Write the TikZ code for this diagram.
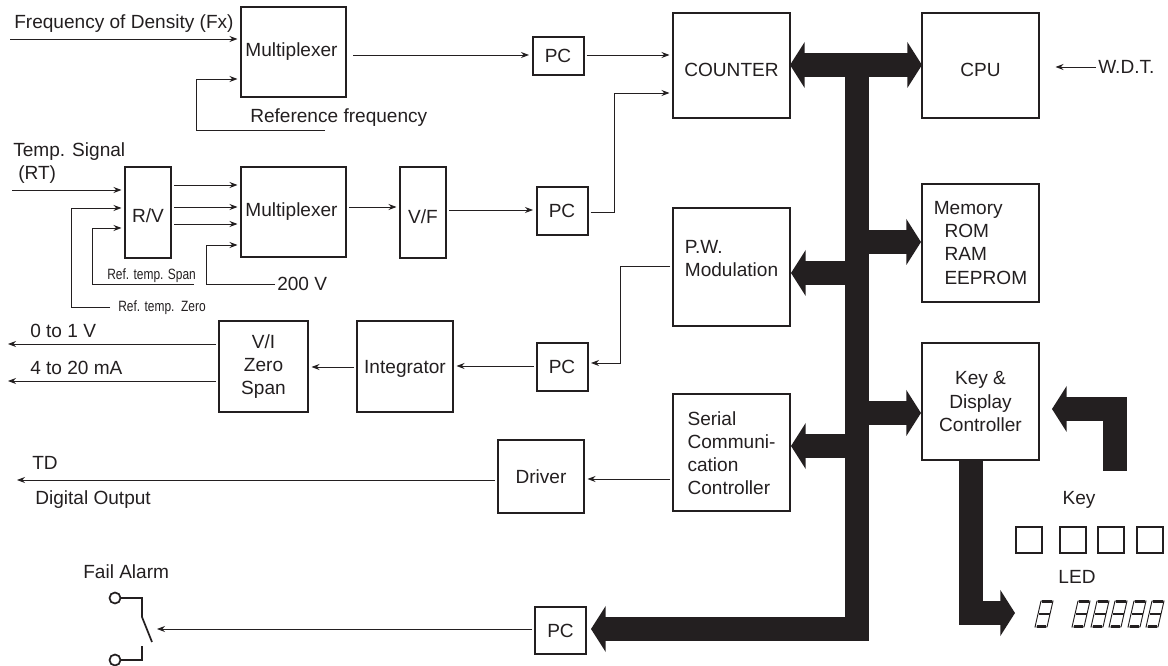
\documentclass[tikz,border=0pt]{standalone}
\usepackage{fontspec}
\usepackage{xcolor}
\setmainfont{Liberation Sans}
\usetikzlibrary{arrows.meta}
\definecolor{ink}{HTML}{231F20}
\def\u{0.75pt}

\tikzset{
    blk/.style 2 args={draw=ink, line width=1.5pt, minimum width=#1*\u, minimum height=#2*\u,
        inner sep=0pt, outer sep=0pt, align=center},
    lowered/.style={text height=#1},
    lbl/.style={inner sep=0pt, anchor=west, align=left},
    tiny lbl/.style={inner sep=0pt, anchor=west, font=\fontsize{11.2}{12}\selectfont},
    sig/.style={draw=ink, line width=0.7pt},
    fromblk/.style={shorten <=3*\u},
    toblk/.style={shorten >=3.5*\u},
    bus/.style={draw=ink, line width=18pt, line join=miter,
        >={Triangle[length=11pt,width=34pt]}},
}

% One slanted seven-segment digit, its lower left corner at x = #1
\newcommand{\segdigit}[1]{
    \draw[ink, line width=0.7pt] (#1,627) -- (#1+6,601) -- (#1+18,601) -- (#1+12,627) -- cycle;
    \draw[ink, line width=2.4pt] (#1+1.5,626.5) -- (#1+11,626.5);
    \draw[ink, line width=2.4pt] (#1+7,601.5) -- (#1+16.5,601.5);
    \draw[ink, line width=1.3pt] (#1+3.5,614) -- (#1+14.5,614);
}

\begin{document}
\begin{tikzpicture}[x=\u, y=-\u, >={Stealth[length=6pt,width=4.5pt]},
    every node/.style={text=ink, font=\fontsize{14.3}{17.3}\selectfont}]

    \useasboundingbox (0,0) rectangle (1168,666);

    % Blocks, first the signal chain on the left
    \node[blk={105}{90}] (muxA) at (293.5,52) {Multiplexer\hspace*{3pt}};
    \node[blk={51}{38}] (pcA) at (558,56) {PC};
    \node[blk={46}{91}, lowered=15pt] (rv) at (148,212.5) {R/V};
    \node[blk={105}{90}] (muxB) at (293.5,212) {Multiplexer\hspace*{3pt}};
    \node[blk={46}{91}, lowered=16pt] (vf) at (423,212.5) {V/F};
    \node[blk={51}{48}] (pcB) at (562,211) {PC};
    \node[blk={51}{48}] (pcC) at (562,367) {PC};
    \node[blk={96}{91}, lowered=14pt] (integ) at (405,366.5) {Integrator};
    \node[blk={89}{91}] (vi) at (263.5,366.5) {V/I\\Zero\\Span};
    \node[blk={86}{73}] (driver) at (541,476.5) {Driver};
    \node[blk={51}{47}] (pcD) at (560.5,630.5) {PC};

    % Blocks on the bus
    \node[blk={117}{105}, lowered=16pt] (counter) at (731.5,65.5) {COUNTER};
    \node[blk={117}{105}, lowered=16pt] (cpu) at (980.5,65.5) {CPU};
    \node[blk={117}{118}, align=left] (pwm) at (731.5,267) {P.W.\\Modulation\\[-4pt]\mbox{}};
    \node[blk={117}{118}, align=left] (memory) at (980.5,243) {Memory\\\hspace*{8pt}ROM\\\hspace*{8pt}RAM\\\hspace*{8pt}EEPROM};
    \node[blk={117}{117}] (keyctl) at (980.5,401.5) {Key \&\\Display\\Controller};
    \node[blk={117}{117}, align=left] (serial) at (731.5,453) {Serial\\Communi-\\cation\\Controller};

    % Free ends of the signals
    \coordinate (fxIn) at (10,39);
    \coordinate (refIn) at (325,130);
    \coordinate (rtIn) at (12,190);
    \coordinate (spanIn) at (194,284);
    \coordinate (zeroIn) at (110,307);
    \coordinate (hvIn) at (275,284);
    \coordinate (volt) at (8,344);
    \coordinate (amp) at (8,381);
    \coordinate (tdOut) at (17,480);
    \coordinate (wdtIn) at (1096,67);
    \coordinate (swTip) at (157,629);

    % Signals
    \draw[sig,->,toblk] (fxIn) -- (muxA.west |- fxIn);
    \draw[sig,->,toblk] (refIn) -- (196,130) -- (196,79) -- (muxA.west |- 0,79);
    \draw[sig,->,fromblk,toblk] (350,55) -- (pcA.west |- 0,55);
    \draw[sig,->,fromblk,toblk] (pcA.east |- 0,55) -- (counter.west |- 0,55);
    \draw[sig,->,toblk] (rtIn) -- (rv.west |- rtIn);
    \draw[sig,->,toblk] (zeroIn) -- (71,307) -- (71,208) -- (rv.west |- 0,208);
    \draw[sig,->,toblk] (spanIn) -- (92,284) -- (92,228) -- (rv.west |- 0,228);
    \foreach \y in {185,207,224}
        \draw[sig,->,fromblk,toblk] (rv.east |- 0,\y) -- (muxB.west |- 0,\y);
    \draw[sig,->,toblk] (hvIn) -- (206,284) -- (206,245) -- (muxB.west |- 0,245);
    \draw[sig,->,fromblk,toblk] (muxB.east |- 0,207) -- (vf.west |- 0,207);
    \draw[sig,->,fromblk,toblk] (vf.east |- 0,210) -- (pcB.west |- 0,210);
    \draw[sig,->,fromblk,toblk] (pcB.east |- 0,212) -- (614,212) -- (614,93) -- (counter.west |- 0,93);
    \draw[sig,->,fromblk,toblk] (pwm.west |- 0,266) -- (620,266) -- (620,363) -- (pcC.east |- 0,363);
    \draw[sig,->,fromblk,toblk] (pcC.west |- 0,366) -- (integ.east |- 0,366);
    \draw[sig,->,fromblk,toblk] (integ.west |- 0,367) -- (vi.east |- 0,367);
    \draw[sig,->,fromblk] (vi.west |- volt) -- (volt);
    \draw[sig,->,fromblk] (vi.west |- amp) -- (amp);
    \draw[sig,->,fromblk,toblk] (serial.west |- 0,479) -- (driver.east |- 0,479);
    \draw[sig,->,fromblk] (driver.west |- tdOut) -- (tdOut);
    \draw[sig,->,fromblk] (pcD.west |- swTip) -- (swTip);
    \draw[sig,->,toblk] (wdtIn) -- (1052,67);

    % Bus
    \draw[bus,<->] (counter.east |- 0,65) -- (cpu.west |- 0,65);
    \draw[bus,->,shorten >=5*\u] (856.5,60) -- (856.5,629) -- (pcD.east |- 0,629);
    \draw[bus,->,shorten >=1*\u] (856.5,273) -- (pwm.east |- 0,273);
    \draw[bus,->,shorten >=1*\u] (856.5,242) -- (memory.west |- 0,242);
    \draw[bus,->,shorten >=1*\u] (856.5,446) -- (serial.east |- 0,446);
    \draw[bus,->,shorten >=1*\u] (856.5,413) -- (keyctl.west |- 0,413);

    % Key and display lines
    \draw[bus,->,shorten >=13*\u] (1115,471) -- (1115,409) -- (keyctl.east |- 0,409);
    \draw[bus,->] (971,460) -- (971,613) -- (1015,613);

    % Keys
    \foreach \x/\n in {1029/1,1073/2,1111/3,1150/4}
        \node[blk={26}{26}, line width=1.1pt] (key\n) at (\x,540) {};

    % LED digits
    \foreach \x in {1035,1072,1091,1109,1128,1146} {
        \segdigit{\x}
    }

    % Alarm contact
    \draw[ink, line width=1.3pt] (115,598) circle (5.5);
    \draw[ink, line width=1.3pt] (115,660) circle (5.5);
    \draw[ink, line width=1.3pt] (120.5,598) -- (142,598) -- (142,617) -- (152,642);
    \draw[ink, line width=1.3pt] (120.5,660) -- (142,660) -- (142,646);

    % Labels
    \node[lbl] (fxLbl) at (14,24) {Frequency of Density (Fx)};
    \node[lbl] (refLbl) at (250,118) {Reference frequency};
    \node[lbl] (tempLbl) at (13,152) {Temp. Signal};
    \node[lbl] (rtLbl) at (18,175) {(RT)};
    \node[tiny lbl] (spanLbl) at (107,276) {\scalebox{0.8}[1]{Ref. temp. Span}};
    \node[tiny lbl] (zeroLbl) at (118,308) {\scalebox{0.8}[1]{Ref. temp.\ \ Zero}};
    \node[lbl] (hvLbl) at (277,284) {200 V};
    \node[lbl] (voltLbl) at (30,331) {0 to 1 V};
    \node[lbl] (ampLbl) at (30,368) {4 to 20 mA};
    \node[lbl] (tdLbl) at (32,463) {TD};
    \node[lbl] (digLbl) at (35,500) {Digital Output};
    \node[lbl] (failLbl) at (83,572) {Fail Alarm};
    \node[lbl] (wdtLbl) at (1098,67) {W.D.T.};
    \node (keyLbl) at (1079,500) {Key};
    \node (ledLbl) at (1077,577) {LED};

\end{tikzpicture}
\end{document}
